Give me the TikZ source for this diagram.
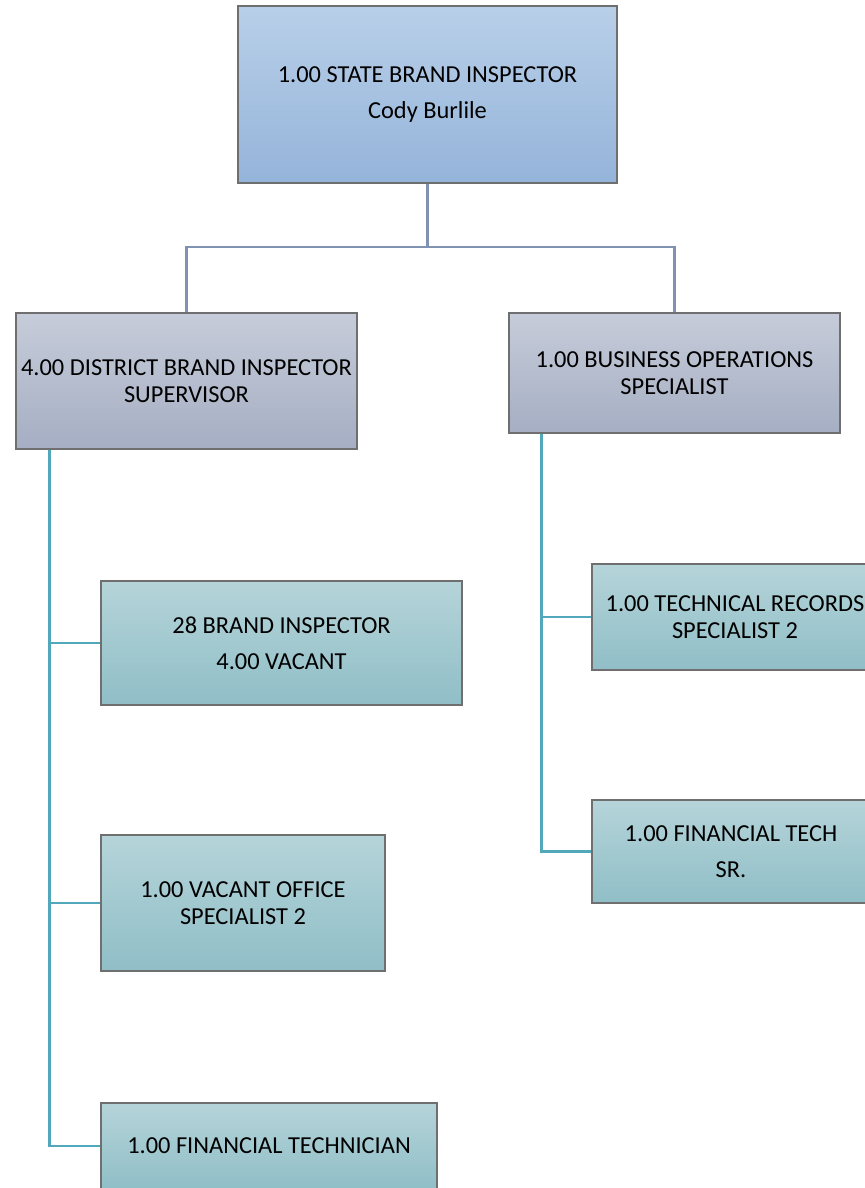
\documentclass[tikz,border=0pt]{standalone}
\usepackage{fontspec}
\setmainfont{Carlito}
\usetikzlibrary{calc}
\definecolor{headtop}{HTML}{B8CFE8}
\definecolor{headbot}{HTML}{95B4DA}
\definecolor{midtop}{HTML}{C6CCD9}
\definecolor{midbot}{HTML}{A5AEC3}
\definecolor{leaftop}{HTML}{B5D4D9}
\definecolor{leafbot}{HTML}{90BEC7}
\definecolor{boxline}{HTML}{6F6F6F}
\definecolor{uplink}{HTML}{8091B2}
\definecolor{downlink}{HTML}{52A8BB}
\tikzset{
	post/.style={draw=boxline,line width=0.6pt,align=center,inner sep=0pt,
		font=\fontsize{12.2}{13.5}\selectfont},
	headpost/.style={post,top color=headtop,bottom color=headbot},
	midpost/.style={post,top color=midtop,bottom color=midbot},
	leafpost/.style={post,top color=leaftop,bottom color=leafbot},
	toplink/.style={draw=uplink,line width=1.1pt},
	leaflink/.style={draw=downlink,line width=1.1pt}
}

\begin{document}
\begin{tikzpicture}[x=0.5pt,y=-0.5pt]
	\useasboundingbox (0,0) rectangle (865,1188);

	\node[headpost,minimum width=189.5pt,minimum height=88.5pt] (state) at (427.5,94.5)
		{1.00 STATE BRAND INSPECTOR\\[4.5pt]Cody Burlile};

	\node[midpost,minimum width=170.5pt,minimum height=68pt] (district) at (186.5,381)
		{4.00 DISTRICT BRAND INSPECTOR\\SUPERVISOR};
	\node[midpost,minimum width=165.5pt,minimum height=60pt] (business) at (674.5,373)
		{1.00 BUSINESS OPERATIONS\\SPECIALIST};

	\node[leafpost,minimum width=180.5pt,minimum height=62pt] (inspector) at (281.5,643)
		{28 BRAND INSPECTOR\\[4.5pt]4.00 VACANT};
	\node[leafpost,minimum width=142pt,minimum height=68pt] (office) at (243,903)
		{1.00 VACANT OFFICE\\SPECIALIST 2};
	\node[leafpost,minimum width=168pt,minimum height=43pt] (fintech) at (269,1146)
		{1.00 FINANCIAL TECHNICIAN};

	\node[leafpost,minimum width=143pt,minimum height=53pt] (records) at (735,617)
		{1.00 TECHNICAL RECORDS\\SPECIALIST 2};
	\node[leafpost,minimum width=139pt,minimum height=51.5pt] (techsr) at (731,851.5)
		{1.00 FINANCIAL TECH\\[4.5pt]SR.};

	\coordinate (fork) at ($(state.south)+(0,63)$);
	\draw[toplink] (state.south) -- (fork) -| (district.north)
		(fork) -| (business.north);

	\coordinate (lefttrunk) at ([xshift=17pt]district.south west);
	\draw[leaflink] (lefttrunk) |- (fintech.west)
		(lefttrunk |- inspector.west) -- (inspector.west)
		(lefttrunk |- office.west) -- (office.west);

	\coordinate (righttrunk) at ([xshift=16.5pt]business.south west);
	\draw[leaflink] (righttrunk) |- (techsr.west)
		(righttrunk |- records.west) -- (records.west);
\end{tikzpicture}
\end{document}
